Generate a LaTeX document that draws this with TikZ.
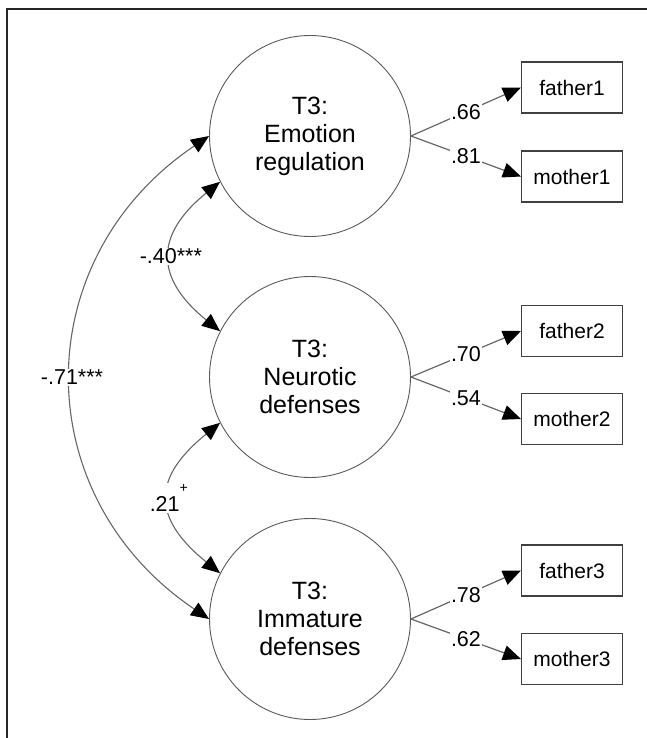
\documentclass[tikz,border=0pt]{standalone}
\usepackage{fontspec}
\setmainfont{Liberation Sans}
\usetikzlibrary{arrows.meta}
\begin{document}
\begin{tikzpicture}[x=1pt,y=1pt,
 latent/.style={circle, draw=black!65, line width=0.9pt, minimum size=201pt, inner sep=0pt, align=center, font=\fontsize{25}{28}\selectfont},
 obs/.style={rectangle, draw=black!75, line width=1.1pt, minimum width=101pt, minimum height=51pt, inner sep=0pt, font=\fontsize{21}{24}\selectfont},
 tipx/.tip={Triangle[length=18pt,width=15pt,color=black]},
 load/.style={draw=black!60, line width=1.2pt, -tipx},
 cov/.style={draw=black!60, line width=1.1pt, tipx-tipx},
 lab/.style={fill=white, inner sep=1pt, font=\fontsize{21.5}{24}\selectfont},
 frame/.style={draw=black!85, line width=2pt}]
\useasboundingbox (0,0) rectangle (647,-738);
\coordinate (fa) at (7,-738);
\coordinate (fb) at (7,-9);
\coordinate (fc) at (647,-9);
\draw[frame] (fa) -- (fb) -- (fc);

\node[latent] (T) at (310,-136) {T3:\\Emotion\\regulation};
\node[latent] (M) at (310,-377) {T3:\\Neurotic\\defenses};
\node[latent] (B) at (310,-619) {T3:\\Immature\\defenses};

\node[obs] (f1) at (572,-87.5) {father1};
\node[obs] (m1) at (572,-176.5) {mother1};
\node[obs] (f2) at (572,-331) {father2};
\node[obs] (m2) at (572,-419) {mother2};
\node[obs] (f3) at (572,-570.5) {father3};
\node[obs] (m3) at (572,-659) {mother3};

\draw[load] (T.east) -- node[lab] {.66} (f1.west);
\draw[load] (T.east) -- node[lab] {.81} (m1.west);
\draw[load] (M.east) -- node[lab] {.70} (f2.west);
\draw[load] (M.east) -- node[lab] {.54} (m2.west);
\draw[load] (B.east) -- node[lab] {.78} (f3.west);
\draw[load] (B.east) -- node[lab] {.62} (m3.west);

\draw[cov] (T.207) to[out=219, in=141, looseness=1.45] node[lab] {-.40***} (M.153);
\draw[cov] (M.207) to[out=219, in=141, looseness=1.5] node[lab] {.21\raisebox{19pt}{\fontsize{14}{14}\selectfont +}} (B.153);
\draw[cov] (T.180) to[out=214, in=146, looseness=1.17] node[lab] {-.71***} (B.180);
\end{tikzpicture}
\end{document}
